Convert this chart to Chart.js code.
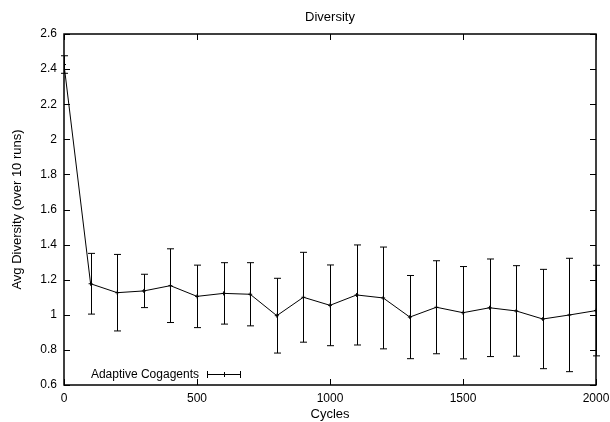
<!DOCTYPE html>
<html>
<head>
<meta charset="utf-8">
<script src="https://cdn.jsdelivr.net/npm/chart.js@4"></script>
<style>
  html, body { margin: 0; padding: 0; background: #fff; }
  #wrap { width: 610px; height: 422px; }
</style>
</head>
<body>
<div id="wrap"><canvas id="chart" width="610" height="422"></canvas></div>
<script>
const cycles = [0, 100, 200, 300, 400, 500, 600, 700, 800, 900, 1000,
  1100, 1200, 1300, 1400, 1500, 1600, 1700, 1800, 1900, 2000];
const avgDiversity = [2.426, 1.177, 1.126, 1.136, 1.166, 1.105, 1.122, 1.117, 0.995, 1.100, 1.054,
  1.113, 1.096, 0.987, 1.043, 1.012, 1.040, 1.022, 0.976, 0.999, 1.024];
const errDiversity = [0.050, 0.173, 0.218, 0.095, 0.210, 0.178, 0.175, 0.180, 0.213, 0.256, 0.230,
  0.285, 0.290, 0.237, 0.265, 0.263, 0.278, 0.258, 0.283, 0.323, 0.258];
const xTicks = [0, 500, 1000, 1500, 2000];
const yTicks = [0.6, 0.8, 1, 1.2, 1.4, 1.6, 1.8, 2, 2.2, 2.4, 2.6];
const seriesName = "Adaptive Cogagents";
const chartTitle = "Diversity";

const FONT = "'Liberation Sans', Arial, Helvetica, sans-serif";

// gnuplot style frame with inward ticks on all four sides, title centred over the plot
const framePlugin = {
  id: "frame",
  afterDatasetsDraw(chart) {
    const { ctx, chartArea: a, scales } = chart;
    ctx.save();
    ctx.strokeStyle = "#000";
    ctx.lineWidth = 1;
    ctx.beginPath();
    xTicks.forEach((v) => {
      const px = Math.round(scales.x.getPixelForValue(v)) + 0.5;
      ctx.moveTo(px, a.bottom); ctx.lineTo(px, a.bottom - 6);
      ctx.moveTo(px, a.top); ctx.lineTo(px, a.top + 6);
    });
    yTicks.forEach((v) => {
      const py = Math.round(scales.y.getPixelForValue(v)) + 0.5;
      ctx.moveTo(a.left, py); ctx.lineTo(a.left + 6, py);
      ctx.moveTo(a.right, py); ctx.lineTo(a.right - 6, py);
    });
    ctx.stroke();
    ctx.lineWidth = 1.5;
    ctx.strokeRect(a.left, a.top, a.right - a.left, a.bottom - a.top);

    ctx.fillStyle = "#000";
    ctx.font = "13px " + FONT;
    ctx.textAlign = "center";
    ctx.textBaseline = "middle";
    ctx.fillText(chartTitle, (a.left + a.right) / 2, 17);
    ctx.restore();
  },
};

// vertical error bars with caps, plus the legend entry
const errorBarPlugin = {
  id: "errorBars",
  afterDatasetsDraw(chart) {
    const { ctx, scales, chartArea: a } = chart;
    const cap = 3.5;
    ctx.save();
    ctx.strokeStyle = "#000";
    ctx.lineWidth = 1;
    ctx.beginPath();
    cycles.forEach((c, i) => {
      const px = Math.round(scales.x.getPixelForValue(c)) + 0.5;
      const top = scales.y.getPixelForValue(avgDiversity[i] + errDiversity[i]);
      const bot = scales.y.getPixelForValue(avgDiversity[i] - errDiversity[i]);
      ctx.moveTo(px, top); ctx.lineTo(px, bot);
      ctx.moveTo(px - cap, top); ctx.lineTo(px + cap, top);
      ctx.moveTo(px - cap, bot); ctx.lineTo(px + cap, bot);
    });
    ctx.stroke();

    // legend key
    const ly = a.bottom - 10.5;
    const x0 = 207, x1 = 241;
    ctx.beginPath();
    ctx.moveTo(x0, ly); ctx.lineTo(x1, ly);
    ctx.moveTo(x0 + 0.5, ly - 3.5); ctx.lineTo(x0 + 0.5, ly + 3.5);
    ctx.moveTo(x1 - 0.5, ly - 3.5); ctx.lineTo(x1 - 0.5, ly + 3.5);
    ctx.moveTo(224.5, ly - 2.5); ctx.lineTo(224.5, ly + 2.5);
    ctx.stroke();
    ctx.fillStyle = "#000";
    ctx.font = "12px " + FONT;
    ctx.textAlign = "right";
    ctx.textBaseline = "middle";
    ctx.fillText(seriesName, 199, ly);
    ctx.restore();
  },
};

const ctx = document.getElementById("chart").getContext("2d");
new Chart(ctx, {
  type: "line",
  data: {
    datasets: [
      {
        label: seriesName,
        data: cycles.map((c, i) => ({ x: c, y: avgDiversity[i] })),
        borderColor: "#000",
        borderWidth: 1,
        pointStyle: "cross",
        pointRadius: 2,
        pointBorderColor: "#000",
        pointBorderWidth: 1,
        tension: 0,
        fill: false,
      },
    ],
  },
  options: {
    responsive: false,
    animation: false,
    devicePixelRatio: 1,
    layout: { padding: { left: 0, right: 14, top: 34, bottom: 0 } },
    plugins: {
      legend: { display: false },
      tooltip: { enabled: false },
      title: { display: false },
    },
    scales: {
      x: {
        type: "linear",
        min: 0,
        max: 2000,
        afterBuildTicks: (scale) => { scale.ticks = xTicks.map((v) => ({ value: v })); },
        afterFit: (scale) => {
          scale.height = 37;
          scale.paddingLeft = 0;
          scale.paddingRight = 0;
        },
        grid: { display: false, drawTicks: false },
        border: { display: false },
        ticks: {
          color: "#000",
          padding: 6,
          maxRotation: 0,
          font: { family: FONT, size: 12 },
          callback: (v) => String(v),
        },
        title: {
          display: true,
          text: "Cycles",
          color: "#000",
          font: { family: FONT, size: 13 },
          padding: { top: 2, bottom: 0 },
        },
      },
      y: {
        min: 0.6,
        max: 2.6,
        afterBuildTicks: (scale) => { scale.ticks = yTicks.map((v) => ({ value: v })); },
        afterFit: (scale) => {
          scale.width = 64;
          scale.paddingTop = 0;
          scale.paddingBottom = 0;
        },
        grid: { display: false, drawTicks: false },
        border: { display: false },
        ticks: {
          color: "#000",
          padding: 7,
          font: { family: FONT, size: 12 },
          callback: (v) => String(Math.round(v * 10) / 10),
        },
        title: {
          display: true,
          text: "Avg Diversity (over 10 runs)",
          color: "#000",
          font: { family: FONT, size: 13 },
          padding: { top: 10, bottom: 0 },
        },
      },
    },
  },
  plugins: [errorBarPlugin, framePlugin],
});
</script>
</body>
</html>
